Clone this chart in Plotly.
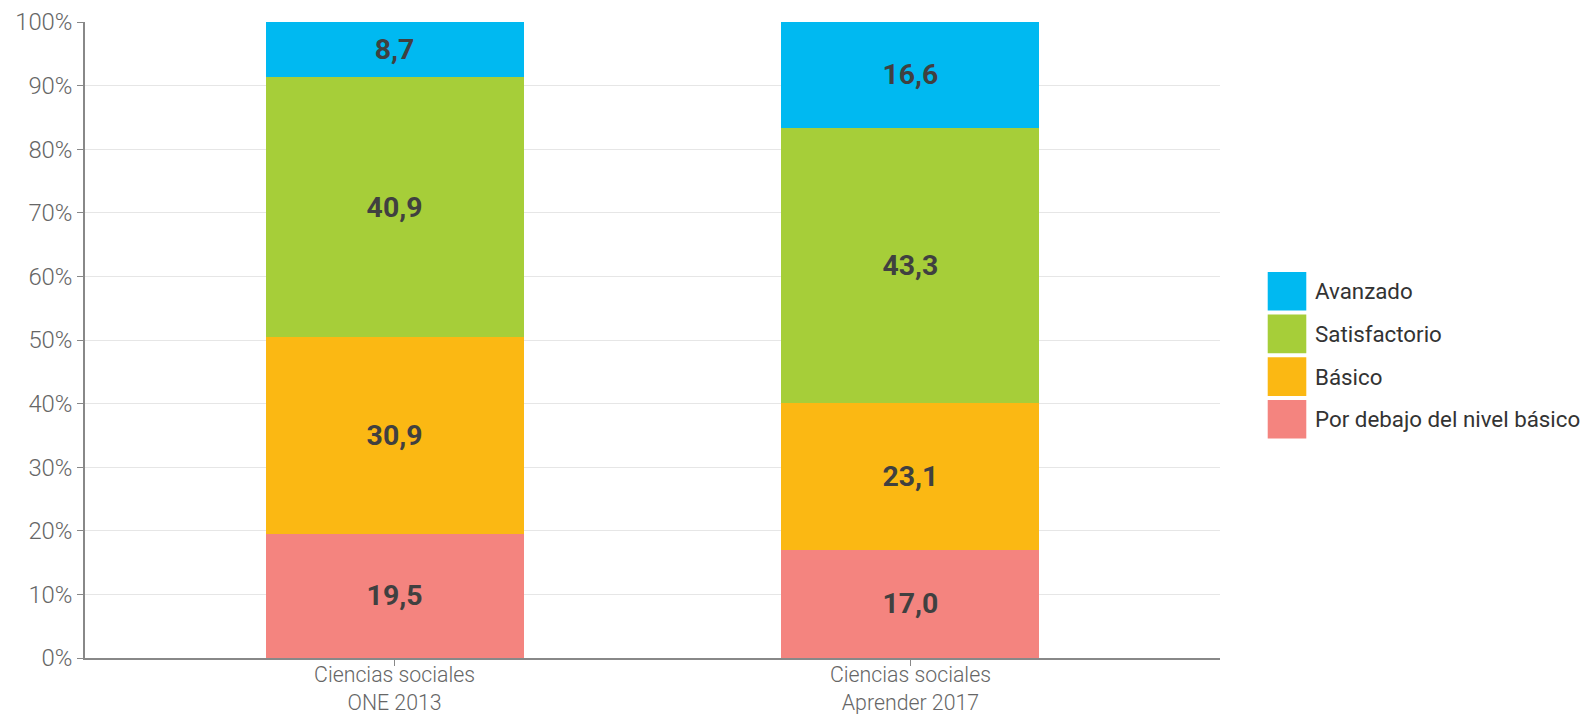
import plotly.graph_objects as go

categories = ["Ciencias sociales<br>ONE 2013", "Ciencias sociales<br>Aprender 2017"]
series_names = ["Por debajo del nivel básico", "Básico", "Satisfactorio", "Avanzado"]
por_debajo = [19.5, 17.0]
basico = [30.9, 23.1]
satisfactorio = [40.9, 43.3]
avanzado = [8.7, 16.6]
series_values = [por_debajo, basico, satisfactorio, avanzado]
colors = ["#F4847F", "#FBB813", "#A6CE39", "#00B9F1"]
y_ticks = list(range(0, 101, 10))
y_tick_labels = [f"{v}%" for v in y_ticks]

# screen-to-page compensation (body margin + viewport scaling)
S = 1592 / 1616
OFF = 8


def px(r):
    return r / S - OFF


def fs(v):
    return v / S


W, H = 1598, 708
plot_left, plot_right = px(84), px(1202)
plot_top, plot_bot = px(22), px(648)
pw = plot_right - plot_left
ph = plot_bot - plot_top

fig = go.Figure()
for name, vals, col in zip(series_names, series_values, colors):
    fig.add_trace(go.Bar(
        x=categories, y=vals, name=name, marker=dict(color=col, line=dict(width=0)),
        width=0.5, texttemplate="%{y:.1f}", textposition="inside",
        insidetextanchor="middle", constraintext="none",
        textfont=dict(family="Roboto", size=fs(28), color="#404040", weight="bold"),
        showlegend=False,
    ))

# custom legend (large square swatches)
legend_order = list(zip(series_names, colors))[::-1]
for i, (name, col) in enumerate(legend_order):
    y0 = px(268 + i * 42)
    y1 = px(268 + i * 42 + 38)
    fy0 = 1 - (y0 - plot_top) / ph
    fy1 = 1 - (y1 - plot_top) / ph
    fig.add_shape(type="rect", xref="paper", yref="paper",
                  x0=(px(1249) - plot_left) / pw,
                  x1=(px(1287) - plot_left) / pw,
                  y0=fy1, y1=fy0, fillcolor=col, line=dict(width=0))
    fig.add_annotation(xref="paper", yref="paper",
                       x=(px(1294) - plot_left) / pw, y=(fy0 + fy1) / 2,
                       text=name, showarrow=False, xanchor="left", yanchor="middle",
                       font=dict(family="Roboto", size=fs(22), color="#333333"))

fig.update_layout(
    barmode="stack",
    width=W, height=H,
    autosize=False,
    margin=dict(l=plot_left, r=W - plot_right, t=plot_top, b=H - plot_bot, pad=0),
    paper_bgcolor="white", plot_bgcolor="white",
    separators=",.",
    font=dict(family="Roboto", color="#666666", size=20),
)
fig.update_xaxes(
    range=[-0.6, 1.6], showline=True, linecolor="#888888", linewidth=1.5,
    ticks="outside", ticklen=6, tickcolor="#888888", showgrid=False, automargin=False,
    ticklabelstandoff=-9,
    tickfont=dict(family="Roboto", size=fs(21), color="#666666", weight=300),
)
fig.update_yaxes(
    range=[0, 100], tickmode="array", tickvals=y_ticks, ticktext=y_tick_labels, showline=True,
    linecolor="#888888", linewidth=1.5, ticks="outside", ticklen=6, tickcolor="#888888",
    gridcolor="#E6E6E6", gridwidth=1, zeroline=False, automargin=False,
    tickfont=dict(family="Roboto", size=fs(23.5), color="#666666", weight=300),
)

fig.write_html("out.html", config={"responsive": False})
